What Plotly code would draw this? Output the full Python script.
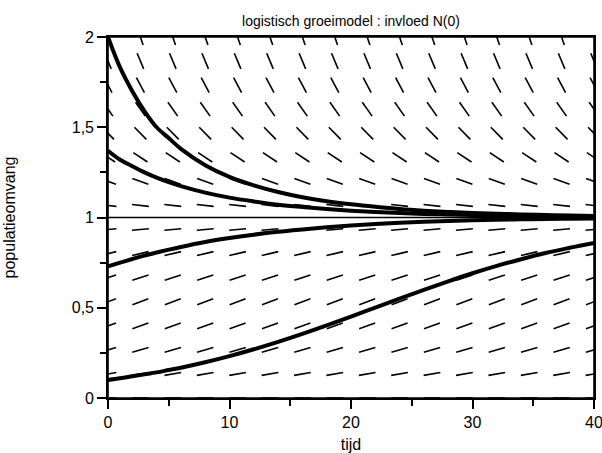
import plotly.graph_objects as go

# ---- data ----
# solution curves (tijd, populatieomvang)
t_curve = [0, 1, 2, 3, 4, 5, 6, 8, 10, 12, 14, 16, 18, 20, 22, 24, 26, 28, 30, 32, 34, 36, 38, 40]
n_curve_a = [2.0, 1.83, 1.70, 1.59, 1.50, 1.44, 1.38, 1.29, 1.225, 1.178, 1.141, 1.112, 1.09, 1.073,
             1.059, 1.047, 1.038, 1.031, 1.025, 1.021, 1.017, 1.014, 1.011, 1.009]
n_curve_b = [1.37, 1.32, 1.284, 1.25, 1.221, 1.196, 1.174, 1.138, 1.110, 1.089, 1.071, 1.058, 1.047,
             1.038, 1.031, 1.025, 1.020, 1.017, 1.014, 1.011, 1.009, 1.007, 1.006, 1.005]
n_curve_c = [0.73, 0.75, 0.77, 0.789, 0.806, 0.822, 0.837, 0.864, 0.886, 0.905, 0.921, 0.934, 0.946,
             0.956, 0.964, 0.971, 0.977, 0.981, 0.985, 0.988, 0.990, 0.992, 0.993, 0.994]
n_curve_d = [0.10, 0.109, 0.12, 0.131, 0.142, 0.155, 0.168, 0.198, 0.232, 0.27, 0.311, 0.355, 0.402,
             0.451, 0.501, 0.551, 0.599, 0.646, 0.691, 0.732, 0.769, 0.803, 0.832, 0.859]

# direction-field grid (columns in tijd, rows in populatieomvang) and slope per row
field_t = [0, 2.667, 5.333, 8, 10.667, 13.333, 16, 18.667, 21.333, 24, 26.667, 29.333, 32, 34.667, 37.333, 40]
field_n = [0, 0.1333, 0.2667, 0.4, 0.5333, 0.6667, 0.8, 0.9333, 1.0667, 1.2, 1.3333, 1.4667, 1.6, 1.7333, 1.8667, 2.0]
field_slope = [0.0, 0.0116, 0.0196, 0.024, 0.0249, 0.0222, 0.016, 0.0062, -0.0071, -0.024, -0.0444,
               -0.0684, -0.096, -0.1271, -0.1618, -0.2]

equilibrium = 1.0
x_ticks = [0, 10, 20, 30, 40]
y_ticks = [0, 0.5, 1, 1.5, 2]

# ---- layout geometry ----
W, H = 602, 453
ML, MR, MT, MB = 108, 8, 37, 55
XR = (0, 40)
YR = (0, 2)
px_x = (W - ML - MR) / (XR[1] - XR[0])
px_y = (H - MT - MB) / (YR[1] - YR[0])
DASH = 17.0

fx, fy = [], []
for n, s in zip(field_n, field_slope):
    sp = s * px_y / px_x
    half_px = DASH / 2 / (1 + sp * sp) ** 0.5
    dx = half_px / px_x
    for t in field_t:
        fx += [t - dx, t + dx, None]
        fy += [n - s * dx, n + s * dx, None]

FONT = "Liberation Sans, Arial"

fig = go.Figure()
fig.add_trace(go.Scatter(x=fx, y=fy, mode="lines", line=dict(color="black", width=1.6),
                         hoverinfo="skip", showlegend=False))
fig.add_trace(go.Scatter(x=[XR[0], XR[1]], y=[equilibrium, equilibrium], mode="lines",
                         line=dict(color="black", width=1.5), showlegend=False))
for n in (n_curve_a, n_curve_b, n_curve_c, n_curve_d):
    fig.add_trace(go.Scatter(x=t_curve, y=n, mode="lines", line=dict(color="black", width=4, shape="spline"),
                             showlegend=False))

# frame around the plotting area
fig.add_shape(type="rect", xref="x domain", yref="y domain", x0=0, x1=1, y0=0, y1=1,
              line=dict(color="black", width=1.6), layer="above")

axis_common = dict(showgrid=False, zeroline=False, showline=True, linecolor="black", linewidth=1.6,
                   mirror=True, ticks="outside", ticklen=9, tickwidth=1.6, tickcolor="black",
                   automargin=False, ticklabeloverflow="allow",
                   tickfont=dict(family=FONT, size=16, color="black"))

fig.update_layout(
    width=W, height=H,
    margin=dict(l=ML, r=MR, t=MT, b=MB, autoexpand=False),
    paper_bgcolor="white", plot_bgcolor="white",
    separators=",.",
    title=dict(text="logistisch groeimodel : invloed N(0)", x=(ML + (W - MR)) / 2 / W, xanchor="center",
               y=1 - 21 / H, yanchor="middle",
               font=dict(family=FONT, size=14, color="black")),
    xaxis=dict(range=list(XR), tickvals=x_ticks,
               minor=dict(dtick=5, ticks="outside", ticklen=6, tickwidth=1.6, tickcolor="black"),
               title=dict(text="tijd", standoff=10,
                          font=dict(family=FONT, size=16, color="black")),
               **axis_common),
    yaxis=dict(range=list(YR), tickvals=y_ticks,
               minor=dict(dtick=0.25, ticks="outside", ticklen=6, tickwidth=1.6, tickcolor="black"),
               title=dict(text="populatieomvang", standoff=52,
                          font=dict(family=FONT, size=16, color="black")),
               **axis_common),
)

fig.write_html("out.html")
